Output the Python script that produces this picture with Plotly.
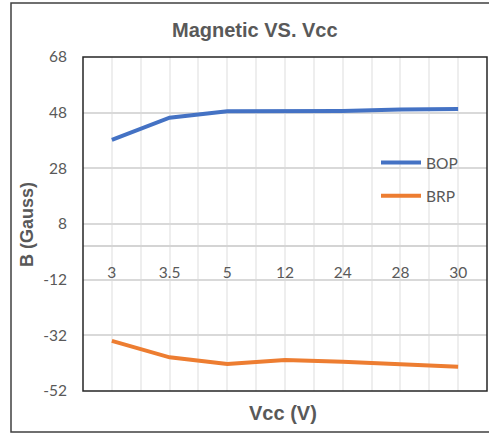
import plotly.graph_objects as go

categories = ["3", "3.5", "5", "12", "24", "28", "30"]
bop = [38.2, 46.2, 48.5, 48.5, 48.6, 49.1, 49.3]
brp = [-34.0, -39.9, -42.3, -40.9, -41.5, -42.4, -43.3]
y_ticks = [-52, -32, -12, 8, 28, 48, 68]

W, H = 489, 433
ML, MR, MT, MB = 83, 2, 57, 42
pw = W - ML - MR
ph = H - MT - MB

xpos = list(range(len(categories)))
ymin, ymax = y_ticks[0], y_ticks[-1]

fig = go.Figure()
fig.add_trace(go.Scatter(x=xpos, y=bop, mode="lines", name="BOP",
                         line=dict(color="#4472C4", width=4), legendgroup="a"))
fig.add_trace(go.Scatter(x=xpos, y=brp, mode="lines", name="BRP",
                         line=dict(color="#ED7D31", width=4), legendgroup="b"))

tick_font = dict(family="Lato, Liberation Sans, sans-serif", size=15.5, color="#595959")


def bold(size):
    return dict(family="Liberation Sans, Arial, sans-serif", size=size, color="#595959")


fig.update_layout(
    width=W, height=H,
    margin=dict(l=ML, r=MR, t=MT, b=MB, pad=0),
    paper_bgcolor="white", plot_bgcolor="white",
    showlegend=True,
    legend=dict(x=(376 - ML) / pw, y=(ph - (146 - MT)) / ph, xanchor="left", yanchor="top",
                bgcolor="rgba(0,0,0,0)", font=dict(family="Lato, sans-serif", size=15.5, color="#595959"),
                itemwidth=40, tracegroupgap=10),
    xaxis=dict(
        range=[-0.5, len(categories) - 0.5],
        tickmode="array", tickvals=xpos, ticktext=categories,
        anchor="free", position=(0 - ymin) / (ymax - ymin),
        showline=True, linecolor="#d4d4d4", linewidth=2,
        ticks="outside", ticklen=12, tickcolor="rgba(0,0,0,0)",
        tickfont=tick_font,
        showgrid=True, gridcolor="#eeeeee", gridwidth=1.5,
        minor=dict(tickmode="array", tickvals=[i - 0.5 for i in range(len(categories) + 1)],
                   showgrid=True, gridcolor="#eeeeee", gridwidth=1.5, ticks=""),
        zeroline=False, fixedrange=True,
    ),
    yaxis=dict(
        range=[ymin, ymax], tickmode="array", tickvals=y_ticks,
        ticktext=[str(v) for v in y_ticks],
        showgrid=True, gridcolor="#d9d9d9", gridwidth=1.5,
        zeroline=False, showline=False, ticks="outside", ticklen=12,
        tickcolor="rgba(0,0,0,0)", tickfont=tick_font,
    ),
    shapes=[
        dict(type="rect", xref="paper", yref="paper", x0=0, x1=1, y0=0, y1=1,
             line=dict(color="#262626", width=1.5), layer="above"),
        dict(type="rect", xref="paper", yref="paper",
             x0=(11 - ML) / pw, x1=(492 - ML) / pw,
             y0=(ph - (432 - MT)) / ph, y1=(ph - (3 - MT)) / ph,
             line=dict(color="#404040", width=1.5), layer="above"),
    ],
    annotations=[
        dict(text="<b>Magnetic VS. Vcc</b>", xref="paper", yref="paper",
             x=(255 - ML) / pw, y=(ph - (30 - MT)) / ph, showarrow=False,
             xanchor="center", yanchor="middle", font=bold(20)),
        dict(text="<b>Vcc (V)</b>", xref="paper", yref="paper",
             x=(283 - ML) / pw, y=(ph - (413 - MT)) / ph, showarrow=False,
             xanchor="center", yanchor="middle", font=bold(20)),
        dict(text="<b>B (Gauss)</b>", xref="paper", yref="paper",
             x=(27 - ML) / pw, y=0.5, showarrow=False, textangle=-90,
             xanchor="center", yanchor="middle", font=bold(18)),
    ],
)

fig.write_html("out.html")
